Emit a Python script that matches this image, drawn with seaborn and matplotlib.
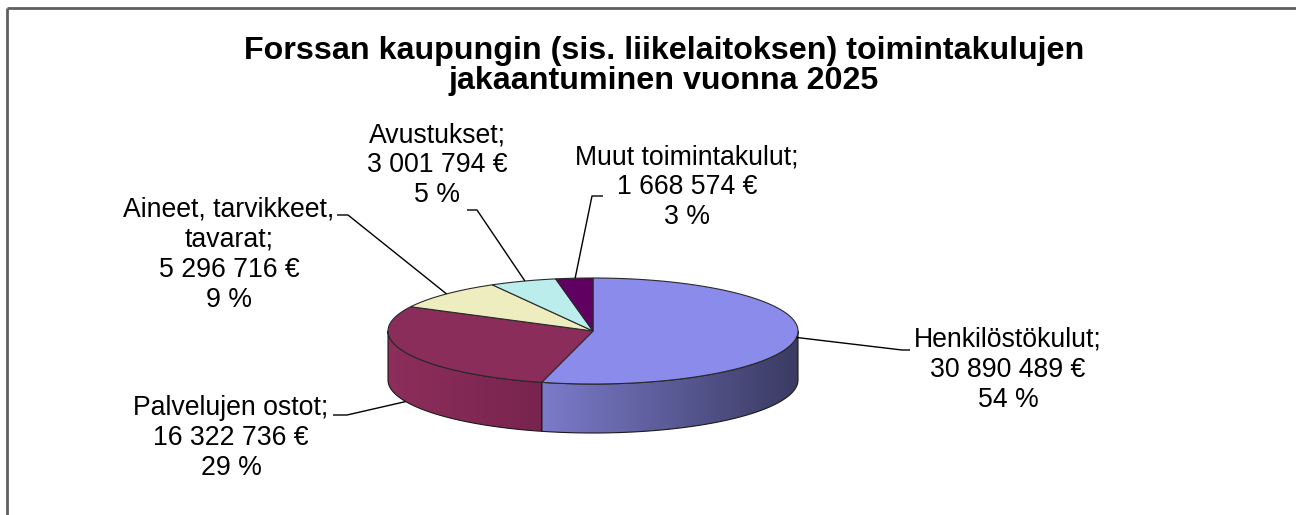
import numpy as np
import matplotlib
matplotlib.use("Agg")
import matplotlib.pyplot as plt
import seaborn as sns
from matplotlib.patches import Polygon

# ---- data ----
categories = ["Henkilöstökulut", "Palvelujen ostot", "Aineet, tarvikkeet,\ntavarat",
              "Avustukset", "Muut toimintakulut"]
values = [30890489, 16322736, 5296716, 3001794, 1668574]
top_colors = ["#8B8BEB", "#8B2D5A", "#EEEDC0", "#BBEDED", "#600060"]
side_light = ["#7B7BCB", "#8D2E5B", "#D8D7AE", "#A9D6D6", "#560056"]
side_dark = ["#3A3A62", "#78244F", "#A9A888", "#84A8A8", "#3C003C"]
title = "Forssan kaupungin (sis. liikelaitoksen) toimintakulujen\njakaantuminen vuonna 2025"

# label layout (pixel positions of text block centers and leader lines)
label_pos = [(1008, 370), (231, 438), (229, 255), (437, 165), (687, 187)]
leader_end = [(910, 350), (333, 415), (337, 215), (467, 210), (603, 196)]
leader_elbow = [(902, 350), (347, 415), (348, 215), (477, 210), (592, 196)]
anchor_angle = [-7.0, -156.0, 135.6, 109.4, 95.0]   # degrees on the pie ellipse
anchor_on_bottom = [False, True, False, False, False]

sns.set_theme(style="white")
plt.rcParams['font.family'] = ['Liberation Sans', 'DejaVu Sans']

W, H = 1296, 515
fig = plt.figure(figsize=(W / 100, H / 100), dpi=100)
ax = fig.add_axes([0, 0, 1, 1])
ax.set_xlim(0, W)
ax.set_ylim(H, 0)
ax.axis('off')

# pie geometry
cx, cy, a, b, depth = 593, 331, 205, 53, 49
total = float(sum(values))
fracs = [v / total for v in values]


def ell(theta_deg, dy=0.0):
    t = np.radians(theta_deg)
    return cx + a * np.cos(t), cy - b * np.sin(t) + dy


start = 90.0
wedges = []
for f in fracs:
    end = start - 360.0 * f
    wedges.append((start, end))
    start = end

# sides (front half: angles in (-180, 0) modulo 360)
for i, (s, e) in enumerate(wedges):
    lo, hi = e, s
    segs = []
    for k in range(-2, 2):
        fl, fh = -180 + 360 * k, 0 + 360 * k
        l2, h2 = max(lo, fl), min(hi, fh)
        if h2 > l2:
            segs.append((l2, h2))
    for l2, h2 in segs:
        th = np.linspace(h2, l2, 200)
        xs, ys = ell(th)
        xb, yb = ell(th[::-1], depth)
        pts = np.column_stack([np.concatenate([xs, xb]), np.concatenate([ys, yb])])
        poly = Polygon(pts, closed=True, facecolor='none', edgecolor='#1a1a1a', lw=0.8, zorder=3)
        ax.add_patch(poly)
        x0, x1 = pts[:, 0].min(), pts[:, 0].max()
        y0, y1 = pts[:, 1].min(), pts[:, 1].max()
        c0 = np.array(matplotlib.colors.to_rgb(side_light[i]))
        c1 = np.array(matplotlib.colors.to_rgb(side_dark[i]))
        t = np.linspace(0, 1, 256)[None, :, None]
        grad = c0 + (c1 - c0) * t
        im = ax.imshow(grad, extent=(x0, x1, y1, y0), aspect='auto', zorder=2,
                       interpolation='bilinear')
        im.set_clip_path(poly)

# tops
for i, (s, e) in enumerate(wedges):
    th = np.linspace(s, e, 200)
    xs, ys = ell(th)
    pts = np.column_stack([np.concatenate([[cx], xs]), np.concatenate([[cy], ys])])
    ax.add_patch(Polygon(pts, closed=True, facecolor=top_colors[i], edgecolor='#2a2a2a',
                         lw=0.8, zorder=4))

# labels and leader lines
for i, (s, e) in enumerate(wedges):
    pct = round(fracs[i] * 100)
    val = f"{values[i]:,}".replace(",", " ")
    txt = f"{categories[i]};\n{val} €\n{pct} %"
    ax.text(label_pos[i][0], label_pos[i][1], txt, ha='center', va='center',
            fontsize=19.2, linespacing=1.2, color='black', zorder=6)
    px, py = ell(anchor_angle[i], depth if anchor_on_bottom[i] else 0.0)
    ax.plot([leader_end[i][0], leader_elbow[i][0], px],
            [leader_end[i][1], leader_elbow[i][1], py],
            color='black', lw=1.0, zorder=5, solid_capstyle='butt')

ax.text(664, 66, title, ha='center', va='center', fontsize=23.2, fontweight='bold',
        linespacing=1.02, color='black')

# chart frame
ax.plot([7, W], [8, 8], color='#5f5f5f', lw=2, solid_capstyle='butt', clip_on=False)
ax.plot([7, 7], [8, H], color='#5f5f5f', lw=2, solid_capstyle='butt', clip_on=False)

fig.savefig("out.png", dpi=100)
